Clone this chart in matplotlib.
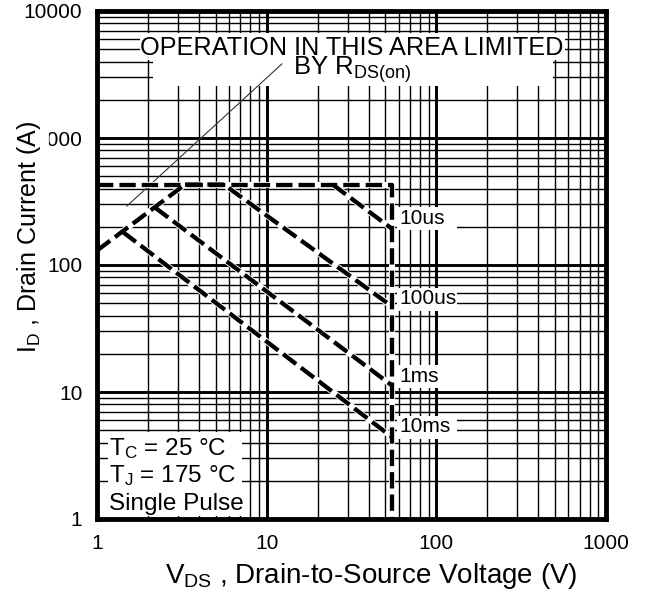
import matplotlib
matplotlib.use('Agg')
import matplotlib.pyplot as plt
from matplotlib.ticker import LogLocator, FixedLocator, FixedFormatter, NullFormatter
from matplotlib.patches import Rectangle

plt.rcParams['font.family'] = ['Liberation Sans', 'DejaVu Sans']
plt.rcParams['mathtext.fontset'] = 'custom'
plt.rcParams['mathtext.rm'] = 'Liberation Sans'
plt.rcParams['mathtext.it'] = 'Liberation Sans'
plt.rcParams['mathtext.bf'] = 'Liberation Sans'
plt.rcParams['mathtext.default'] = 'regular'

# ---------------- data ----------------
x_ticks = [1, 10, 100, 1000]
x_tick_labels = ['1', '10', '100', '1000']
y_ticks = [1, 10, 100, 1000, 10000]
y_tick_labels = ['1', '10', '100', '1000', '10000']

# package / BVdss limit (horizontal current limit, vertical voltage limit)
limit_v = [1, 55, 55]
limit_i = [430, 430, 1]
# R_DS(on) limit line
rds_v = [1, 3.3]
rds_i = [130, 430]
# pulse-width boundaries
us10_v = [24.5, 55]
us10_i = [430, 192]
us100_v = [3.3, 5.6, 55]
us100_i = [430, 430, 47]
ms1_v = [2.2, 55]
ms1_i = [283, 11.2]
ms10_v = [1.42, 55]
ms10_i = [182, 4.4]

curve_labels = ['10us', '100us', '1ms', '10ms']

# annotation leader line (from curve area to text)
leader_v = [1.5, 12.3]
leader_i = [291, 3830]

# ---------------- figure ----------------
W, H = 652, 606
L, R, T, B = 97, 606, 11, 519
fig = plt.figure(figsize=(W / 100, H / 100), dpi=100)
ax = fig.add_axes([L / W, 1 - B / H, (R - L) / W, (B - T) / H])
ax.set_xscale('log')
ax.set_yscale('log')
ax.set_xlim(1, 1000)
ax.set_ylim(1, 10000)


def fx(px):
    return (px - L) / (R - L)


def fy(py):
    return (B - py) / (B - T)


ax.xaxis.set_major_locator(FixedLocator(x_ticks))
ax.xaxis.set_major_formatter(FixedFormatter(x_tick_labels))
ax.yaxis.set_major_locator(FixedLocator(y_ticks))
ax.yaxis.set_major_formatter(FixedFormatter(y_tick_labels))
ax.xaxis.set_minor_locator(LogLocator(base=10, subs=range(2, 10)))
ax.yaxis.set_minor_locator(LogLocator(base=10, subs=range(2, 10)))
ax.xaxis.set_minor_formatter(NullFormatter())
ax.yaxis.set_minor_formatter(NullFormatter())

ax.grid(which='major', color='black', lw=2.1, zorder=1)
ax.grid(which='minor', color='black', lw=1.0, zorder=1)
ax.set_axisbelow(True)
ax.tick_params(which='both', length=0)
ax.tick_params(axis='x', pad=10.5, labelsize=15)
ax.tick_params(axis='y', pad=10.5, labelsize=15)
for s in ax.spines.values():
    s.set_linewidth(3.5)
    s.set_zorder(10)


# white boxes covering the grid behind texts
def white_box(x0, y0, x1, y1):
    ax.add_patch(Rectangle((fx(x0), fy(y1)), fx(x1) - fx(x0), fy(y0) - fy(y1),
                           transform=ax.transAxes, facecolor='white',
                           edgecolor='none', zorder=3))


label_rows = [218, 299, 376, 427]
white_box(140, 33, 565, 60)
white_box(153, 60, 553, 86)
white_box(108, 432, 242, 516)
for py in label_rows:
    white_box(397, py - 11, 457, py + 12)


def dashed(x, y):
    ax.plot(x, y, color='white', lw=4.4, solid_capstyle='butt', zorder=5)
    ax.plot(x, y, color='black', lw=3.1, dashes=(3.8, 1.4),
            dash_capstyle='butt', zorder=6)


dashed(limit_v, limit_i)
dashed(rds_v, rds_i)
dashed(us10_v, us10_i)
dashed(us100_v, us100_i)
dashed(ms1_v, ms1_i)
dashed(ms10_v, ms10_i)

ax.plot(leader_v, leader_i, color='#333333', lw=0.8, zorder=4)

# texts
ax.text(fx(352), fy(55), 'OPERATION IN THIS AREA LIMITED', transform=ax.transAxes,
        ha='center', va='baseline', fontsize=18.2, zorder=7)
ax.text(fx(352), fy(75), r'BY R$_{DS(on)}$', transform=ax.transAxes,
        ha='center', va='baseline', fontsize=18.5, zorder=7)

for lab, py in zip(curve_labels, label_rows):
    ax.text(fx(399), fy(py), lab, transform=ax.transAxes, ha='left',
            va='center', fontsize=15, zorder=7)

ax.text(fx(109), fy(455), r'T$_C$ = 25 °C', transform=ax.transAxes,
        ha='left', va='baseline', fontsize=17.5, zorder=7)
ax.text(fx(109), fy(482), r'T$_J$ = 175 °C', transform=ax.transAxes,
        ha='left', va='baseline', fontsize=17.5, zorder=7)
ax.text(fx(109), fy(510), 'Single Pulse', transform=ax.transAxes,
        ha='left', va='baseline', fontsize=17.5, zorder=7)

ax.set_xlabel(r'V$_{DS}$ , Drain-to-Source Voltage (V)', fontsize=20)
ax.xaxis.label.set_va('baseline')
ax.xaxis.set_label_coords(fx(371), fy(583))

ax.set_ylabel(r'I$_D$ , Drain Current (A)', fontsize=18,
              bbox=dict(facecolor='white', edgecolor='none', pad=4))
ax.yaxis.label.set_va('center')
ax.yaxis.set_label_coords(fx(29), fy(237))

fig.savefig('out.png', dpi=100, facecolor='white')
